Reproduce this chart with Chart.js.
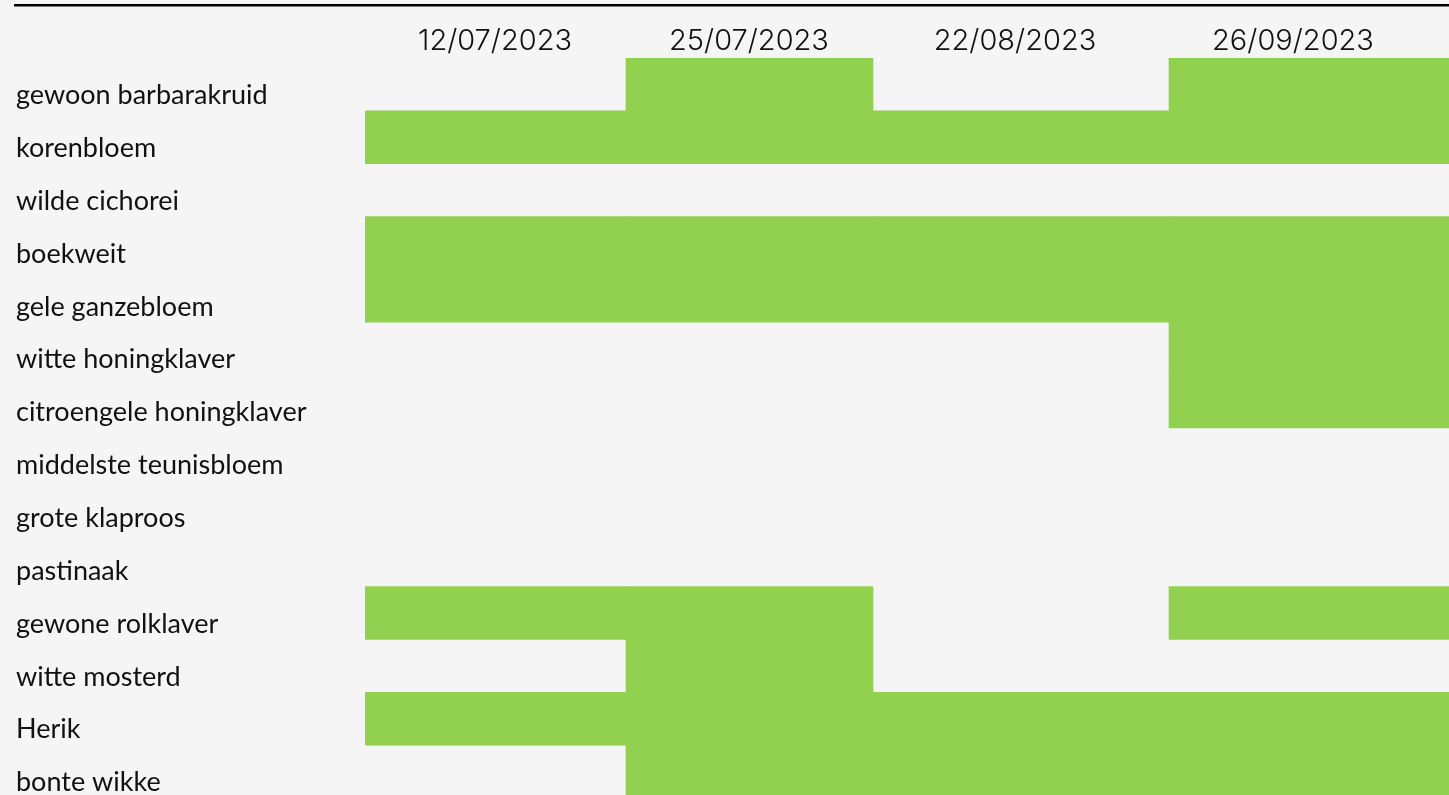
<!DOCTYPE html>
<html lang="nl">
<head>
    <meta charset="UTF-8">
    <title>Soorten per datum</title>
    <script src="https://cdn.jsdelivr.net/npm/chart.js"></script>
    <style>
        html, body {
            margin: 0;
            padding: 0;
            background: #f5f5f5;
            overflow: hidden;
        }
        canvas { display: block; }
    </style>
</head>
<body>
    <canvas id="grid" width="1449" height="798"></canvas>

    <script>
        // data
        const dates = ['12/07/2023', '25/07/2023', '22/08/2023', '26/09/2023'];
        const species = [
            'gewoon barbarakruid', 'korenbloem', 'wilde cichorei', 'boekweit',
            'gele ganzebloem', 'witte honingklaver', 'citroengele honingklaver',
            'middelste teunisbloem', 'grote klaproos', 'pastinaak',
            'gewone rolklaver', 'witte mosterd', 'Herik', 'bonte wikke'
        ];
        // 1 = waargenomen op die datum, one list per date column
        const seen_1207 = [0, 1, 0, 1, 1, 0, 0, 0, 0, 0, 1, 0, 1, 0];
        const seen_2507 = [1, 1, 0, 1, 1, 0, 0, 0, 0, 0, 1, 1, 1, 1];
        const seen_2208 = [0, 1, 0, 1, 1, 0, 0, 0, 0, 0, 0, 0, 1, 1];
        const seen_2609 = [1, 1, 0, 1, 1, 1, 1, 0, 0, 0, 1, 0, 1, 1];
        const seen = [seen_1207, seen_2507, seen_2208, seen_2609];

        // layout: column widths of the table (px units on the x scale)
        const colWidths = [261, 247, 296, 280];
        const headerCenters = [130, 384, 650, 928];
        const GREEN = '#92d050';

        const edges = [0];
        colWidths.forEach(w => edges.push(edges[edges.length - 1] + w));

        const datasets = dates.map((d, j) => ({
            label: d,
            data: seen[j].map(v => v ? [edges[j], edges[j + 1]] : null),
            backgroundColor: GREEN,
            borderWidth: 0,
            barPercentage: 1,
            categoryPercentage: 1,
            grouped: false
        }));

        const topLine = {
            id: 'topLine',
            beforeDraw(chart) {
                const ctx = chart.ctx;
                ctx.save();
                ctx.fillStyle = '#f5f5f5';
                ctx.fillRect(0, 0, chart.width, chart.height);
                ctx.strokeStyle = '#000';
                ctx.lineWidth = 2.6;
                ctx.beginPath();
                ctx.moveTo(14, 5.3);
                ctx.lineTo(chart.width, 5.3);
                ctx.stroke();
                ctx.restore();
            }
        };

        new Chart(document.getElementById('grid'), {
            type: 'bar',
            data: { labels: species, datasets: datasets },
            plugins: [topLine],
            options: {
                indexAxis: 'y',
                responsive: false,
                animation: false,
                layout: { padding: { left: 16, right: 0, top: 0, bottom: 0 } },
                plugins: {
                    legend: { display: false },
                    tooltip: { enabled: false }
                },
                scales: {
                    x: {
                        type: 'linear',
                        position: 'top',
                        min: 0,
                        max: edges[edges.length - 1],
                        grid: { display: false, drawTicks: false },
                        border: { display: false },
                        afterBuildTicks(scale) {
                            scale.ticks = headerCenters.map(v => ({ value: v }));
                        },
                        afterFit(scale) {
                            scale.height = 58;
                            scale.paddingLeft = 0;
                            scale.paddingRight = 0;
                        },
                        ticks: {
                            autoSkip: false,
                            maxRotation: 0,
                            padding: -1,
                            color: '#111',
                            font: { family: 'Inter', size: 29, weight: '300' },
                            callback: (v, i) => dates[i]
                        }
                    },
                    y: {
                        grid: { display: false, drawTicks: false },
                        border: { display: false },
                        afterFit(scale) {
                            scale.width = 349;
                            scale.paddingTop = 0;
                            scale.paddingBottom = 0;
                        },
                        ticks: {
                            crossAlign: 'far',
                            labelOffset: 11,
                            color: '#111',
                            font: { family: 'Lato', size: 27 }
                        }
                    }
                }
            }
        });
    </script>
</body>
</html>
